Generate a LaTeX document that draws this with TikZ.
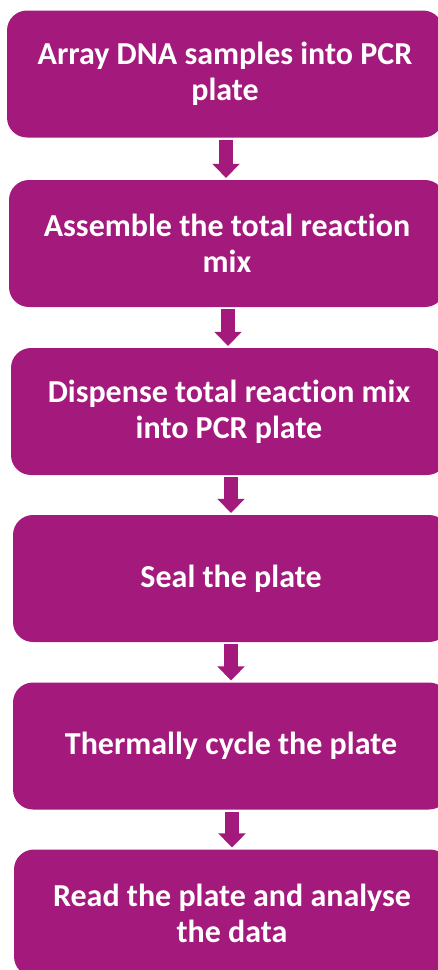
\documentclass[tikz,border=0pt]{standalone}
\usepackage{fontspec}
\setmainfont{Carlito}[Ligatures=NoCommon]
\usetikzlibrary{arrows.meta}
\definecolor{stepcol}{HTML}{A3197C}
\tikzset{
  stepbox/.style={fill=stepcol, draw=none, rounded corners=20pt, text=white,
    minimum width=436pt, minimum height=127pt, align=center, inner sep=0pt,
    font=\fontsize{32}{36}\selectfont\bfseries},
  flow/.style={stepcol, line width=14pt, shorten <=2pt, shorten >=2pt,
    -{Triangle[width=27pt,length=14pt]}}
}

\begin{document}
\begin{tikzpicture}[x=1pt,y=-1pt]

  \useasboundingbox (0,0) rectangle (438,970);
  \clip (0,0) rectangle (438,970);

  % the six steps
  \node[stepbox] (array)    at (225,74)    {Array DNA samples into PCR\\plate};
  \node[stepbox] (assemble) at (227,243.5) {Assemble the total reaction\\mix};
  \node[stepbox] (dispense) at (229,411.5) {Dispense total reaction mix\\into PCR plate};
  \node[stepbox] (seal)     at (231,578.5) {Seal the plate};
  \node[stepbox] (cycle)    at (231,746)   {Thermally cycle the plate};
  \node[stepbox] (read)     at (232,913)   {Read the plate and analyse\\the data};

  % arrows between steps
  \draw[flow] ([xshift=1pt]array.south)    -- ([xshift=1pt]array.south |- assemble.north);
  \draw[flow] ([xshift=1pt]assemble.south) -- ([xshift=1pt]assemble.south |- dispense.north);
  \draw[flow] ([xshift=2pt]dispense.south) -- ([xshift=2pt]dispense.south |- seal.north);
  \draw[flow] (seal.south)     -- (seal.south |- cycle.north);
  \draw[flow] ([xshift=1pt]cycle.south)    -- ([xshift=1pt]cycle.south |- read.north);

\end{tikzpicture}
\end{document}
